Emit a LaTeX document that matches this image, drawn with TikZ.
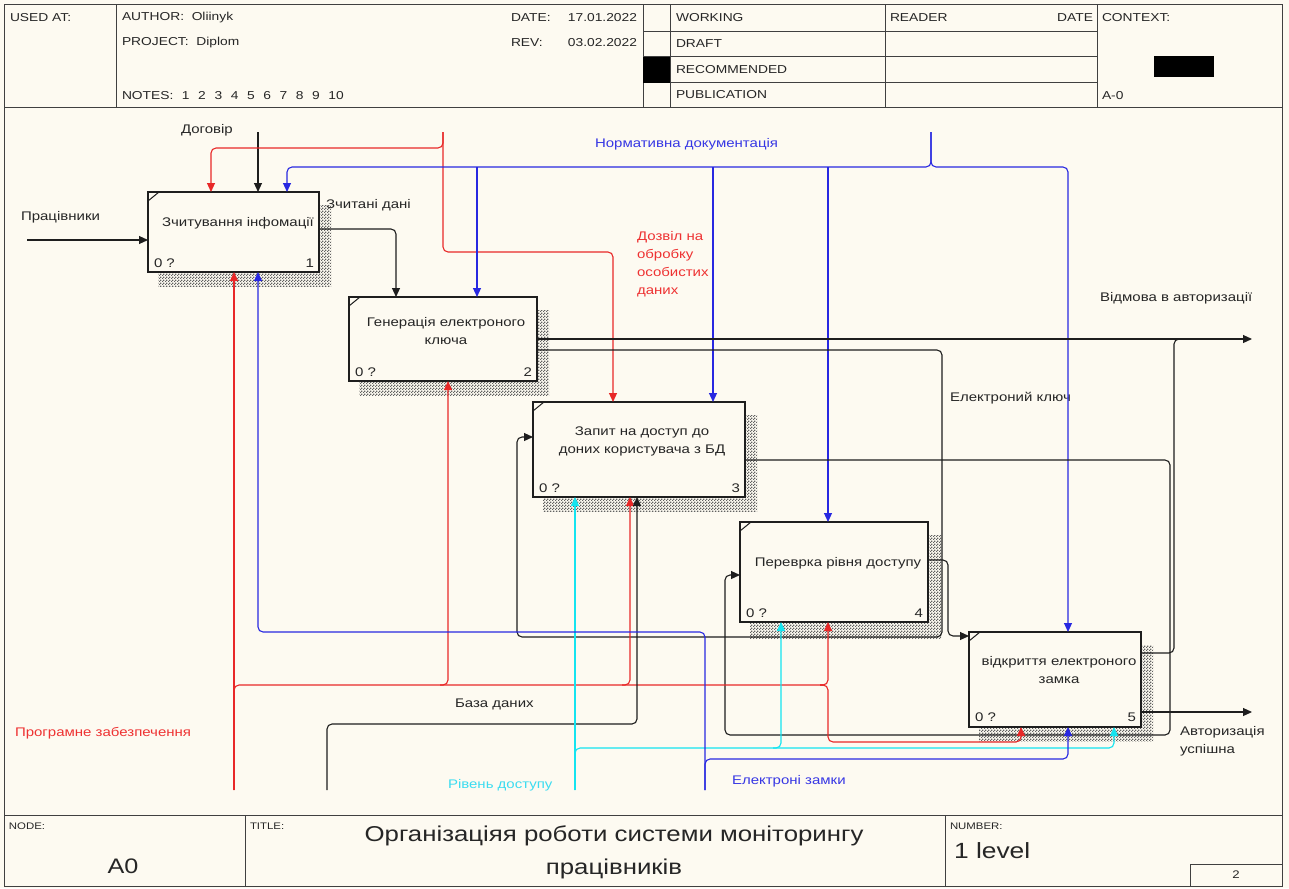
\documentclass[tikz,border=0pt]{standalone}
\usepackage{fontspec}
\setmainfont[FakeStretch=1.2]{Liberation Sans}
\usetikzlibrary{arrows.meta,patterns}
\definecolor{bg}{RGB}{253,250,241}
\definecolor{ink}{RGB}{30,30,30}
\definecolor{txt}{RGB}{38,38,38}
\definecolor{cred}{RGB}{232,40,40}
\definecolor{cblue}{RGB}{40,40,225}
\definecolor{ccyan}{RGB}{20,228,240}
\definecolor{tred}{RGB}{238,50,50}
\definecolor{tblue}{RGB}{55,55,228}
\definecolor{tcyan}{RGB}{60,220,240}
\newcommand\hgap{\hspace{8.6pt}}
\pgfdeclarepatternformonly{fineck}{\pgfpoint{0pt}{0pt}}{\pgfpoint{3pt}{3pt}}{\pgfpoint{3pt}{3pt}}{%
  \pgfpathrectangle{\pgfpoint{0pt}{0pt}}{\pgfpoint{1.5pt}{1.5pt}}%
  \pgfpathrectangle{\pgfpoint{1.5pt}{1.5pt}}{\pgfpoint{1.5pt}{1.5pt}}%
  \pgfusepath{fill}}
\begin{document}
\begin{tikzpicture}[x=1pt,y=-1pt,
  every node/.style={inner sep=0pt, outer sep=0pt, text=txt, font=\fontsize{12.5}{15}\selectfont},
  pbox/.style={draw=ink, line width=2.6pt, fill=bg, rectangle},
  arr/.style={-{Triangle[length=9pt,width=8pt]}},
  rc/.style={rounded corners=5pt},
  conn/.style={line width=1.1pt, draw=ink},
  redl/.style={draw=cred},
  bluel/.style={draw=cblue},
  cyanl/.style={draw=ccyan},
  frm/.style={draw=ink!85, line width=1pt},
  hdr/.style={anchor=west, font=\fontsize{11.5}{13}\selectfont},
  ftl/.style={anchor=west, font=\fontsize{9.5}{11}\selectfont},
  lbl/.style={anchor=west},
  shd/.style={pattern=fineck, pattern color=black!62},
  tick/.style={draw=ink, line width=1pt},
]
\fill[bg] (0,0) rectangle (1289,888);
\useasboundingbox (0,0) rectangle (1289,888);

% ---------- frame ----------
\draw[frm] (4.5,4.5) rectangle (1282,886.5);
\draw[frm] (4.5,108) -- (1282,108);
\draw[frm] (4.5,815) -- (1282,815);
\foreach \xx in {116,643,670,885,1097} \draw[frm] (\xx,4.5) -- (\xx,108);
\foreach \yy in {32,57,83} \draw[frm] (643,\yy) -- (1097,\yy);
\fill[black] (643,57) rectangle (670,83);
\fill[black] (1154,56) rectangle (1214,77);
\draw[frm] (245,815) -- (245,886.5);
\draw[frm] (945,815) -- (945,886.5);
\draw[frm] (1190,864) rectangle (1282,886.5);

% ---------- header texts ----------
\node[hdr] (usedat) at (10,18) {USED AT:};
\node[hdr] (author) at (122,18) {AUTHOR:\ \ Oliinyk};
\node[hdr] (project) at (122,43) {PROJECT:\ \ Diplom};
\node[hdr] (notes) at (122,96) {NOTES:\hgap 1\hgap 2\hgap 3\hgap 4\hgap 5\hgap 6\hgap 7\hgap 8\hgap 9\hgap 10};
\node[hdr] (date) at (511,18) {DATE:};
\node[hdr, anchor=east] (dateval) at (637,18) {17.01.2022};
\node[hdr] (rev) at (511,43) {REV:};
\node[hdr, anchor=east] (revval) at (637,43) {03.02.2022};
\node[hdr] (working) at (676,18) {WORKING};
\node[hdr] (draft) at (676,44) {DRAFT};
\node[hdr] (recom) at (676,70) {RECOMMENDED};
\node[hdr] (publ) at (676,95) {PUBLICATION};
\node[hdr] (reader) at (890,18) {READER};
\node[hdr, anchor=east] (rdate) at (1093,18) {DATE};
\node[hdr] (context) at (1102,18) {CONTEXT:};
\node[hdr] (azero) at (1102,96) {A-0};

% ---------- footer texts ----------
\node[ftl] (nodel) at (9,826) {NODE:};
\node[ftl] (titlel) at (250,826) {TITLE:};
\node[ftl] (numl) at (950,826) {NUMBER:};
\node[font=\fontsize{21}{24}\selectfont] (a0) at (123,866) {A0};
\node[font=\fontsize{21.5}{25}\selectfont] (title1) at (614,836) {Організаціяя роботи системи моніторингу};
\node[font=\fontsize{21.5}{25}\selectfont] (title2) at (614,869) {працівників};
\node[anchor=west, font=\fontsize{22}{26}\selectfont] (lvl) at (954,851) {1 level};
\node[font=\fontsize{11}{13}\selectfont] (pg) at (1236,875) {2};

% ---------- shadows ----------
\fill[shd] (158,205) rectangle (331,286);
\fill[shd] (359,310) rectangle (549,395);
\fill[shd] (543,415) rectangle (757,511);
\fill[shd] (750,535) rectangle (941,638);
\fill[shd] (979,645) rectangle (1153,741);

% ---------- boxes ----------
\node[pbox, minimum width=171, minimum height=80] (b1) at (233.5,232) {};
\node[pbox, minimum width=188, minimum height=84] (b2) at (443,339) {};
\node[pbox, minimum width=212, minimum height=95] (b3) at (639,449.5) {};
\node[pbox, minimum width=188, minimum height=100] (b4) at (834,572) {};
\node[pbox, minimum width=172, minimum height=95] (b5) at (1055,679.5) {};
\foreach \bb in {b1,b2,b3,b4,b5} \draw[tick] (\bb.north west) ++(0,9) -- ++(11,-9);

\node (b1t) at (238,223) {Зчитування інфомації};
\node[align=center, font=\fontsize{12.5}{18}\selectfont] (b2t) at (446,331) {Генерація електроного\\ключа};
\node[align=center, font=\fontsize{12.5}{18}\selectfont] (b3t) at (642,441) {Запит на доступ до\\доних користувача з БД};
\node (b4t) at (838,563) {Переврка рівня доступу};
\node[align=center, font=\fontsize{12.5}{18}\selectfont] (b5t) at (1059,670) {відкриття електроного\\замка};
\node[anchor=west] (b1a) at (154,263) {0 ?};
\node[anchor=east] (b1n) at (314,263) {1};
\node[anchor=west] (b2a) at (355,372) {0 ?};
\node[anchor=east] (b2n) at (532,372) {2};
\node[anchor=west] (b3a) at (539,488) {0 ?};
\node[anchor=east] (b3n) at (740,488) {3};
\node[anchor=west] (b4a) at (746,613) {0 ?};
\node[anchor=east] (b4n) at (923,613) {4};
\node[anchor=west] (b5a) at (975,717) {0 ?};
\node[anchor=east] (b5n) at (1136,717) {5};

% ---------- labels ----------
\node[lbl] (lprac) at (21,217) {Працівники};
\node[lbl] (ldog) at (181,130) {Договір};
\node[lbl] (lzch) at (326,205) {Зчитані дані};
\node[lbl, text=tred, align=left, font=\fontsize{12.5}{18}\selectfont] (ldoz) at (637,264) {Дозвіл на\\обробку\\особистих\\даних};
\node[lbl, text=tblue] (lnorm) at (595,144) {Нормативна документація};
\node[lbl] (lvid) at (1100,298) {Відмова в авторизації};
\node[lbl] (lek) at (950,398) {Електроний ключ};
\node[lbl] (lbaza) at (455,704) {База даних};
\node[lbl, text=tred] (lprog) at (15,733) {Програмне забезпечення};
\node[lbl, text=tcyan] (lriv) at (448,785) {Рівень доступу};
\node[lbl, text=tblue] (lzam) at (732,781) {Електроні замки};
\node[lbl, align=left, font=\fontsize{12.5}{18}\selectfont] (lavt) at (1180,741) {Авторизація\\успішна};

% ---------- connectors ----------
\begin{scope}[conn]
\coordinate (pracS) at (27,240);
\draw[arr] (pracS) -- (pracS -| b1.west);
\coordinate (dogS) at (258,132);
\draw[arr] (dogS) -- (dogS |- b1.north);

% Зчитані дані
\coordinate (zc) at (396,229);
\draw[arr,rc] (b1.east |- zc) -- (zc) -- (zc |- b2.north);

% Дозвіл на обробку особистих даних
\coordinate (dozS) at (443,132);
\coordinate (doz1) at (443,252);
\coordinate (doz2) at (613,252);
\coordinate (doz3) at (211,148);
\draw[arr,redl,rc] (dozS) -- (doz1) -- (doz2) -- (doz2 |- b3.north);
\draw[arr,redl,rc] (dozS) |- (doz3) -- (doz3 |- b1.north);

% Нормативна документація
\coordinate (normS) at (931,132);
\coordinate (nL) at (287,167);
\coordinate (nR) at (1068,167);
\coordinate (n2) at (477,167);
\coordinate (n3) at (713,167);
\coordinate (n4) at (828,167);
\draw[arr,bluel,rc] (normS) |- (nL) -- (nL |- b1.north);
\draw[arr,bluel,rc] (normS) |- (nR) -- (nR |- b5.north);
\draw[arr,bluel] (n2) -- (n2 |- b2.north);
\draw[arr,bluel] (n3) -- (n3 |- b3.north);
\draw[arr,bluel] (n4) -- (n4 |- b4.north);

% Відмова в авторизації
\coordinate (vidE) at (1252,339);
\draw[arr] (b2.east |- vidE) -- (vidE);

% Електроний ключ
\coordinate (ek1) at (942,350);
\coordinate (ek2) at (942,637);
\coordinate (ek3) at (517,637);
\coordinate (ek4) at (517,437);
\draw[arr,rc] (b2.east |- ek1) -- (ek1) -- (ek2) -- (ek3) -- (ek4) -- (ek4 -| b3.west);

% box3 -> box4
\coordinate (q1) at (1170,460);
\coordinate (q2) at (1170,735);
\coordinate (q3) at (725,735);
\coordinate (q4) at (725,575);
\draw[arr,rc] (b3.east |- q1) -- (q1) -- (q2) -- (q3) -- (q4) -- (q4 -| b4.west);

% box5 -> Відмова
\coordinate (r1) at (1174,653);
\coordinate (r2) at (1174,339);
\coordinate (r3) at (1188,339);
\draw[rc] (b5.east |- r1) -- (r1) -- (r2) -- (r3);

% box4 -> box5
\coordinate (s1) at (948,560);
\coordinate (s2) at (948,636);
\draw[arr,rc] (b4.east |- s1) -- (s1) -- (s2) -- (s2 -| b5.west);

% Авторизація успішна
\coordinate (avtE) at (1252,712);
\draw[arr] (b5.east |- avtE) -- (avtE);

% Програмне забезпечення
\coordinate (progS) at (234,790);
\coordinate (p1) at (823,685);
\coordinate (p2a) at (440,685);
\coordinate (p2) at (448,685);
\coordinate (p3a) at (622,685);
\coordinate (p3) at (630,685);
\coordinate (p4a) at (820,685);
\coordinate (p4) at (828,685);
\coordinate (p5) at (828,742);
\coordinate (p6) at (1021,742);
\draw[arr,redl] (progS) -- (progS |- b1.south);
\draw[redl,rc] (progS) |- (p1);
\draw[arr,redl,rc] (p2a) -| (p2 |- b2.south);
\draw[arr,redl,rc] (p3a) -| (p3 |- b3.south);
\draw[arr,redl,rc] (p4a) -| (p4 |- b4.south);
\draw[arr,redl,rc] (p4a) -| (p5) -| (p6 |- b5.south);

% База даних
\coordinate (bazS) at (327,790);
\coordinate (bz) at (637,724);
\draw[arr,rc] (bazS) |- (bz) -- (bz |- b3.south);

% Рівень доступу
\coordinate (rivS) at (575,790);
\coordinate (rv) at (1114,748);
\coordinate (rv4a) at (773,748);
\coordinate (rv4) at (781,748);
\draw[arr,cyanl] (rivS) -- (rivS |- b3.south);
\draw[arr,cyanl,rc] (rivS) |- (rv) -- (rv |- b5.south);
\draw[arr,cyanl,rc] (rv4a) -| (rv4 |- b4.south);

% Електроні замки
\coordinate (zamS) at (705,790);
\coordinate (zm1) at (258,632);
\coordinate (zm2) at (1068,759);
\draw[arr,bluel,rc] (zamS) |- (zm1) -- (zm1 |- b1.south);
\draw[arr,bluel,rc] (zamS) |- (zm2) -- (zm2 |- b5.south);
\end{scope}
\end{tikzpicture}
\end{document}
